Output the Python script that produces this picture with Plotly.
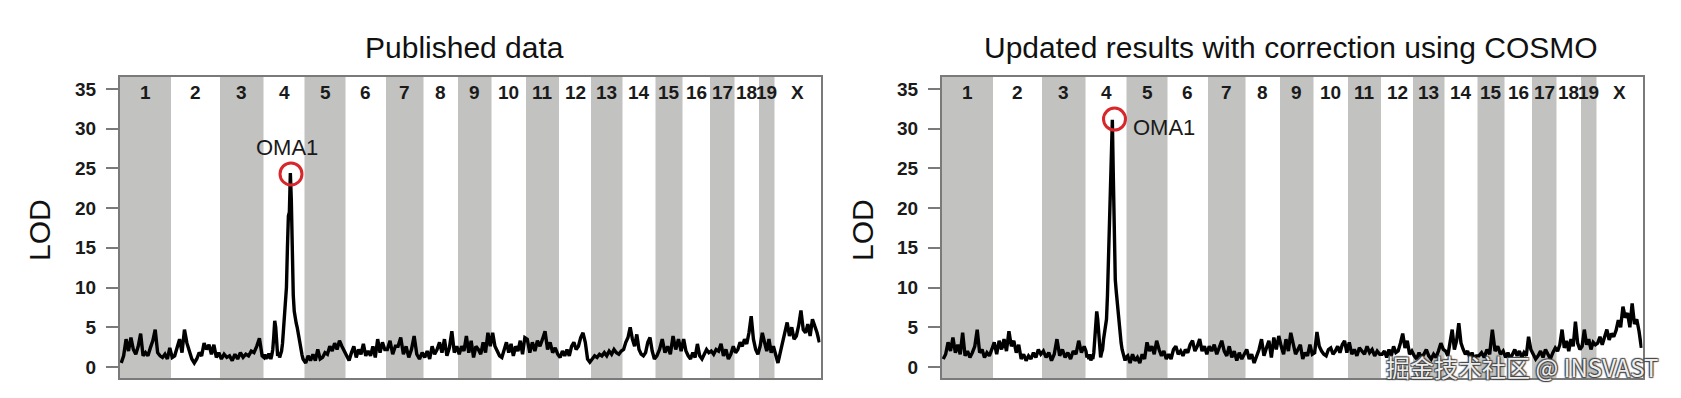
import numpy as np
import plotly.graph_objects as go

# ---------------- data ----------------
chrom_names = ["1", "2", "3", "4", "5", "6", "7", "8", "9", "10",
               "11", "12", "13", "14", "15", "16", "17", "18", "19", "X"]
chrom_len_cM = [102, 98, 87, 82, 82, 81, 75, 69, 67, 69,
                66, 64, 63, 66, 54, 55, 49, 49, 31, 92]

lod_published = {
    "1": [0.5, 1.4, 3.5, 2.0, 3.7, 2.2, 1.6, 2.6, 4.2, 1.4, 1.8, 1.4, 2.4, 3.3, 4.7, 1.8, 1.4, 1.2, 1.6, 1.0, 2.4],
    "2": [1.2, 1.4, 2.6, 3.5, 1.8, 4.7, 3.0, 2.0, 1.0, 0.5, 1.0, 1.8, 1.4, 3.0, 2.2, 2.8, 1.6, 2.8, 1.2, 1.8],
    "3": [1.0, 1.6, 1.2, 1.4, 0.8, 1.6, 1.0, 1.8, 1.2, 1.6, 1.4, 2.0, 1.8, 2.6, 3.6, 1.4],
    "4": [1.2, 1.6, 1.0, 1.4, 1.1, 1.7, 1.3, 1.0, 1.5, 2.2, 3.8, 5.8, 5.0, 2.5, 1.4, 1.8, 1.2, 1.6, 2.0, 3.0,
          4.5, 6.0, 7.5, 10.0, 15.0, 19.0, 19.5, 24.4, 21.0, 14.0, 9.0, 7.0, 6.0, 5.5, 5.0, 4.2, 3.6, 3.0,
          2.2, 1.5, 1.0, 0.8],
    "5": [0.5, 1.4, 0.8, 1.6, 0.8, 2.2, 1.0, 1.2, 1.8, 1.6, 2.6, 2.0, 3.0, 2.2, 3.3, 2.6, 2.0],
    "6": [1.4, 0.8, 1.8, 2.6, 1.2, 2.2, 1.6, 2.9, 1.4, 2.0, 1.4, 2.6, 1.2, 3.5, 1.8, 3.1, 2.2],
    "7": [2.2, 3.3, 1.6, 2.6, 2.6, 3.7, 1.6, 2.6, 1.2, 2.2, 3.9, 1.6, 1.0, 1.8],
    "8": [1.2, 2.0, 1.0, 2.6, 1.6, 2.2, 3.1, 1.8, 3.5, 1.4, 2.4, 4.5, 1.8, 2.6],
    "9": [1.6, 2.6, 2.0, 3.9, 1.8, 3.3, 1.2, 2.6, 2.2, 1.6, 3.1, 1.8, 4.3, 2.6],
    "10": [4.3, 2.6, 2.0, 1.4, 1.2, 2.2, 3.1, 1.8, 2.9, 1.4, 2.6, 2.0, 3.3, 1.6, 3.7],
    "11": [3.5, 1.8, 3.1, 2.0, 3.3, 2.6, 3.5, 4.5, 2.2, 3.1, 1.8, 2.4, 1.6],
    "12": [1.2, 2.0, 1.4, 2.2, 1.4, 2.6, 3.1, 2.2, 2.6, 3.7, 4.3, 3.1, 1.0, 0.6],
    "13": [1.0, 1.4, 1.2, 1.6, 1.4, 1.8, 1.4, 2.0, 1.6, 2.2, 1.8, 1.6, 2.0],
    "14": [2.2, 3.1, 3.7, 5.0, 3.5, 2.6, 4.1, 2.2, 1.6, 1.4, 1.8, 3.1, 3.7, 2.0, 1.0],
    "15": [1.4, 2.2, 3.5, 1.8, 2.6, 1.6, 3.9, 2.2, 3.5, 2.0],
    "16": [3.5, 2.0, 1.4, 1.0, 1.8, 1.2, 2.9, 1.4, 1.0, 1.6, 2.2, 1.8],
    "17": [2.0, 1.6, 2.2, 2.0, 2.9, 1.4, 2.2, 1.0, 1.6, 2.6],
    "18": [1.8, 2.2, 3.1, 2.6, 3.5, 2.9, 4.3, 6.4, 3.5, 2.2, 1.6],
    "19": [2.6, 4.3, 3.1, 2.0, 3.5, 1.8, 2.6],
    "X": [1.6, 0.5, 1.8, 3.1, 4.5, 5.6, 3.9, 5.0, 3.5, 3.9, 5.2, 7.1, 4.7, 4.3, 5.4, 3.9, 6.0, 5.2, 4.3, 3.1],
}

lod_cosmo = {
    "1": [1.0, 1.6, 3.1, 2.0, 3.7, 1.8, 2.8, 1.6, 4.3, 1.4, 2.0, 1.2, 1.8, 2.6, 4.7, 1.8, 2.2, 1.2, 1.8, 1.4, 2.2],
    "2": [3.1, 1.6, 3.3, 2.2, 3.5, 2.0, 4.5, 2.6, 3.3, 1.8, 2.8, 1.0, 1.6, 0.8, 1.4, 1.0, 1.8, 1.2, 2.2, 1.6],
    "3": [2.0, 1.2, 1.8, 0.8, 1.6, 3.5, 1.4, 2.2, 1.2, 1.8, 1.0, 2.0, 1.6, 3.3, 1.8, 2.6],
    "4": [2.0, 1.2, 1.5, 1.0, 1.6, 0.8, 1.3, 1.0, 1.8, 3.5, 5.5, 7.0, 6.0, 4.0, 2.0, 1.2, 1.8, 2.2, 3.5, 4.5,
          5.0, 6.0, 9.0, 14.3, 18.0, 22.5, 28.0, 31.1, 24.0, 14.3, 11.0, 9.5, 8.0, 6.5, 5.0, 4.0, 3.0, 2.2,
          1.6, 1.2, 0.8, 1.2],
    "5": [1.4, 0.5, 1.6, 0.8, 1.2, 0.5, 1.6, 1.0, 3.1, 2.0, 2.6, 1.6, 3.3, 2.2, 1.4, 2.0, 1.0],
    "6": [1.6, 1.0, 2.2, 2.6, 1.6, 2.0, 1.4, 2.2, 1.8, 2.8, 3.3, 2.0, 2.6, 3.5, 2.0, 2.6, 1.6],
    "7": [2.6, 2.0, 2.8, 1.6, 2.4, 3.3, 2.0, 1.4, 2.6, 1.2, 2.0, 0.8, 1.8, 1.0, 1.6],
    "8": [2.2, 1.0, 1.6, 0.5, 1.4, 2.2, 3.5, 1.4, 2.4, 3.3, 1.2, 3.7, 2.2, 3.9],
    "9": [2.6, 1.6, 3.5, 2.0, 4.3, 3.1, 1.6, 2.2, 2.8, 1.0, 1.8, 1.4, 2.8, 1.6],
    "10": [1.8, 4.4, 2.6, 2.0, 1.6, 1.4, 2.2, 2.4, 1.6, 2.0, 2.6, 1.8, 2.8, 3.3, 1.8],
    "11": [3.1, 1.6, 2.2, 1.4, 2.4, 2.0, 1.6, 2.6, 1.8, 2.2, 1.4, 2.0, 1.6],
    "12": [1.6, 2.0, 1.2, 2.2, 1.4, 2.6, 1.8, 2.0, 3.0, 4.2, 2.4, 3.3, 1.6, 2.0],
    "13": [1.4, 1.0, 1.8, 1.2, 1.6, 2.2, 1.4, 1.0, 1.6, 1.2, 2.0, 3.0, 2.2],
    "14": [2.0, 1.4, 3.0, 4.7, 2.2, 3.3, 5.5, 3.0, 2.2, 1.6, 2.0, 1.2, 1.8, 1.0, 1.4],
    "15": [1.4, 1.8, 1.2, 2.2, 1.6, 4.7, 2.0, 2.6, 1.6, 2.0],
    "16": [1.2, 1.8, 1.0, 1.6, 2.2, 1.4, 2.0, 1.2, 1.8, 1.4, 3.8, 2.2],
    "17": [1.6, 1.0, 1.4, 2.0, 1.2, 2.2, 1.6, 1.0, 1.8, 2.4],
    "18": [2.0, 2.8, 4.7, 2.4, 3.3, 2.0, 3.5, 2.6, 5.7, 3.0, 2.2],
    "19": [2.6, 4.7, 2.8, 3.5, 2.2, 3.1, 2.8],
    "X": [3.0, 3.8, 2.8, 3.6, 4.7, 3.4, 4.2, 3.8, 4.6, 5.9, 5.0, 7.6, 6.2, 6.8, 5.0, 8.0, 5.4, 6.0, 4.5, 2.4],
}

panel_titles = ["Published data", "Updated results with correction using COSMO"]
y_ticks = [0, 5, 10, 15, 20, 25, 30, 35]
gene_label = "OMA1"
gene_pos_cM = [342, 345]     # genome-wide cM of OMA1 hit (circle)
gene_lod = [24.3, 31.2]

# ---------------- layout helpers ----------------
W, H = 1681, 398
FONT = "Liberation Sans, Arial, Helvetica, sans-serif"
BAND = "#c2c2c0"
EDGE = "#7a7a7a"

starts = np.concatenate([[0], np.cumsum(chrom_len_cM)[:-1]])
total = float(np.sum(chrom_len_cM))


def genome_xy(lod_dict):
    xs, ys = [], []
    for name, st, ln in zip(chrom_names, starts, chrom_len_cM):
        vals = lod_dict[name]
        n = len(vals)
        pos = st + (np.arange(n) + 0.5) * ln / n
        xs.extend(pos.tolist())
        ys.extend(vals)
    return xs, ys


px_domains = [(120, 820.5), (942, 1642.5)]
ydom = [(H - 378) / H, (H - 77) / H]

fig = go.Figure()
shapes, annos = [], []

for i, (lod, title) in enumerate(zip([lod_published, lod_cosmo], panel_titles)):
    k = "" if i == 0 else "2"
    xa, ya = "x" + k, "y" + k
    xs, ys = genome_xy(lod)
    fig.add_trace(go.Scatter(x=xs, y=ys, mode="lines", xaxis=xa, yaxis=ya,
                             line=dict(color="#000000", width=3.4), showlegend=False,
                             hoverinfo="skip"))
    fig.add_trace(go.Scatter(x=[gene_pos_cM[i]], y=[gene_lod[i]], mode="markers",
                             xaxis=xa, yaxis=ya, showlegend=False, hoverinfo="skip",
                             marker=dict(symbol="circle-open", size=22, color="#d8262a",
                                         line=dict(width=3, color="#d8262a"))))
    # chromosome bands + labels
    for j, (name, st, ln) in enumerate(zip(chrom_names, starts, chrom_len_cM)):
        if j % 2 == 0 and name != "X":
            shapes.append(dict(type="rect", xref=xa, yref=ya + " domain",
                               x0=st, x1=st + ln, y0=0, y1=1, fillcolor=BAND,
                               line=dict(width=0), layer="below"))
        annos.append(dict(x=st + ln / 2, y=34.5, xref=xa, yref=ya, text="<b>%s</b>" % name,
                          showarrow=False, xanchor="center",
                          font=dict(family=FONT, size=19, color="#1a1a1a")))
    d0, d1 = px_domains[i]
    fig.layout["xaxis" + k] = dict(domain=[d0 / W, d1 / W], range=[0, total], showgrid=False,
                                   zeroline=False, showticklabels=False, ticks="",
                                   showline=True, mirror=True, linecolor=EDGE, linewidth=2,
                                   anchor=ya)
    fig.layout["yaxis" + k] = dict(domain=ydom, range=[-1.39, 36.5], showgrid=False,
                                   zeroline=False, tickvals=y_ticks, ticks="outside",
                                   ticklen=12, tickwidth=2, tickcolor=EDGE,
                                   ticklabelstandoff=6,
                                   tickfont=dict(family=FONT, size=19, color="#1a1a1a",
                                                 weight="bold"),
                                   showline=True, mirror=True, linecolor=EDGE, linewidth=2,
                                   anchor=xa)
    # titles & LOD labels
    title_px = 464 if i == 0 else 1291
    annos.append(dict(x=title_px / W, y=(H - 48) / H, xref="paper", yref="paper", text=title,
                      showarrow=False, xanchor="center", yanchor="middle",
                      font=dict(family=FONT, size=30, color="#111111")))
    lod_px = 40 if i == 0 else 863
    annos.append(dict(x=lod_px / W, y=(H - 230) / H, xref="paper", yref="paper", text="LOD",
                      textangle=-90, showarrow=False, xanchor="center", yanchor="middle",
                      font=dict(family=FONT, size=30, color="#111111")))

# OMA1 labels
annos.append(dict(x=334, y=27.6, xref="x", yref="y", text=gene_label, showarrow=False,
                  xanchor="center", font=dict(family=FONT, size=22, color="#1a1a1a")))
annos.append(dict(x=378, y=30.2, xref="x2", yref="y2", text=gene_label, showarrow=False,
                  xanchor="left", font=dict(family=FONT, size=22, color="#1a1a1a")))

# watermark
annos.append(dict(x=1522 / W, y=(H - 366) / H, xref="paper", yref="paper",
                  text="掘金技术社区 @ INSVAST", showarrow=False,
                  xanchor="center", yanchor="middle",
                  font=dict(family="Noto Sans CJK SC, sans-serif", size=24,
                            color="rgba(255,255,255,0.92)",
                            shadow="1px 1px 1px #444, -1px -1px 1px #444, 1px -1px 1px #444, -1px 1px 1px #444")))

fig.update_layout(width=W, height=H, margin=dict(l=0, r=0, t=0, b=0),
                  paper_bgcolor="white", plot_bgcolor="white",
                  shapes=shapes, annotations=annos, showlegend=False)

fig.write_html("out.html")
